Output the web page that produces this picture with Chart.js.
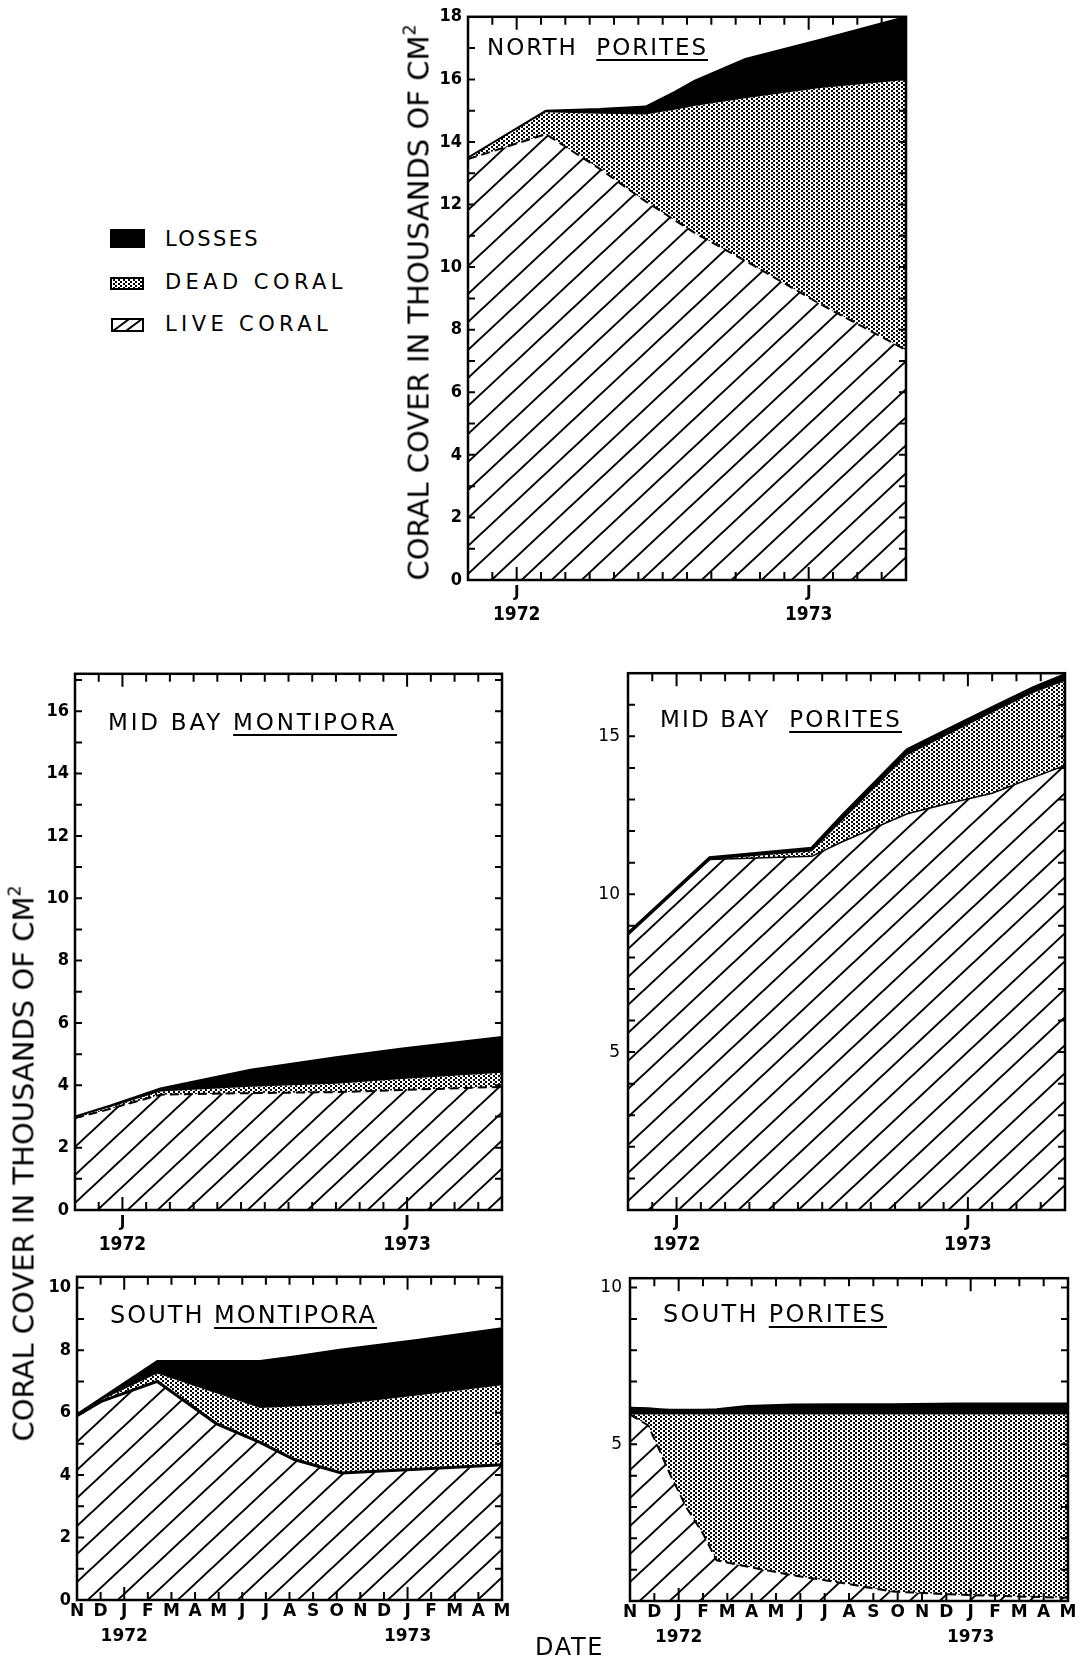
<!DOCTYPE html>
<html>
<head>
<meta charset="utf-8">
<script src="https://cdn.jsdelivr.net/npm/chart.js@4.4.1/dist/chart.umd.min.js"></script>
<style>
html,body{margin:0;padding:0;background:#fff;}
body{width:1085px;height:1661px;position:relative;overflow:hidden;font-family:'DejaVu Sans',sans-serif;color:#000;}
canvas.panel{position:absolute;}
.txt{position:absolute;white-space:nowrap;line-height:1;color:#000;}
.txt u{text-decoration:underline;text-decoration-thickness:2px;text-underline-offset:4px;}
.txt sup{font-size:0.6em;vertical-align:0.75em;line-height:0;}
</style>
</head>
<body>
<script>
// ---------- tick labels ----------
const monthLetters = ['N','D','J','F','M','A','M','J','J','A','S','O','N','D','J','F','M','A','M'];
const yearLabels   = ['','','1972','','','','','','','','','','','','1973','','','',''];
const januaryTicks = [2, 14];

// ---------- NORTH PORITES (months since 1 Nov 1971) ----------
const npTimes = [0, 3.2, 5.4, 7.3, 8.5, 9.3, 11.4, 14.4, 18];
const npLive  = [13.45, 14.25, 13.15, 12.1, 11.5, 11.1, 10.2, 8.85, 7.35];
const npDead  = [13.5, 14.95, 14.9, 14.88, 15.03, 15.15, 15.4, 15.72, 15.98];
const npTotal = [13.5, 15.0, 15.05, 15.13, 15.6, 15.95, 16.65, 17.25, 18.0];

// ---------- MID BAY MONTIPORA ----------
const mmTimes = [0, 1.5, 3.6, 7.4, 11, 13.8, 18];
const mmLive  = [2.95, 3.25, 3.7, 3.75, 3.78, 3.85, 3.95];
const mmDead  = [3.0, 3.3, 3.8, 3.95, 4.05, 4.2, 4.4];
const mmTotal = [3.0, 3.35, 3.9, 4.5, 4.9, 5.18, 5.55];

// ---------- MID BAY PORITES ----------
const mpTimes = [0, 3.37, 7.57, 8.85, 11.5, 13.1, 15, 16.7, 18];
const mpLive  = [8.75, 11.1, 11.2, 11.67, 12.55, 12.86, 13.2, 13.7, 14.08];
const mpDead  = [8.75, 11.1, 11.35, 12.35, 14.4, 15.02, 15.75, 16.38, 16.75];
const mpTotal = [8.75, 11.15, 11.45, 12.5, 14.57, 15.18, 15.9, 16.54, 16.95];

// ---------- SOUTH MONTIPORA ----------
const smTimes = [0, 1, 3.4, 5.9, 7.75, 9.2, 11.2, 14.4, 18];
const smLive  = [5.9, 6.35, 7.0, 5.65, 5.05, 4.5, 4.07, 4.19, 4.33];
const smDead  = [5.95, 6.4, 7.25, 6.62, 6.15, 6.2, 6.27, 6.55, 6.88];
const smTotal = [5.95, 6.45, 7.65, 7.65, 7.65, 7.8, 8.02, 8.33, 8.7];

// ---------- SOUTH PORITES ----------
const spTimes = [0, 0.75, 1.23, 1.64, 2.33, 3.0, 3.56, 4.8, 6.7, 8.75, 10.8, 13.5, 18];
const spLive  = [5.95, 5.6, 4.78, 4.05, 2.97, 2.15, 1.3, 1.1, 0.82, 0.57, 0.3, 0.2, 0.1];
const spDead  = [5.95, 5.95, 5.95, 5.95, 5.95, 5.95, 5.95, 5.95, 5.95, 5.95, 5.95, 5.95, 5.95];
const spTotal = [6.17, 6.15, 6.12, 6.1, 6.1, 6.1, 6.12, 6.22, 6.27, 6.28, 6.28, 6.3, 6.3];

// ---------- helpers ----------
function hatchTile(){
  const c=document.createElement('canvas'); c.width=30; c.height=28;
  const g=c.getContext('2d'); g.strokeStyle='#000'; g.lineWidth=2;
  for(let k=-1;k<=1;k++){ g.beginPath(); g.moveTo(-30,56+k*28); g.lineTo(60,-28+k*28); g.stroke(); }
  return c;
}
function dotTile(){
  const c=document.createElement('canvas'); c.width=5; c.height=4;
  const g=c.getContext('2d'); g.fillStyle='#000';
  g.fillRect(0,0,2,2); g.fillRect(3,2,2,2);
  return c;
}
const HATCH=hatchTile(), DOTS=dotTile();
const pts=(t,v)=>t.map((x,i)=>({x:x,y:v[i]}));

const frameTicks={
  id:'frameTicks',
  afterDatasetsDraw(chart){
    const {ctx, chartArea:a, scales}=chart; const xs=scales.x, ys=scales.y;
    ctx.save(); ctx.strokeStyle='#000'; ctx.lineWidth=2; ctx.beginPath();
    for(let t=1;t<18;t++){
      const px=xs.getPixelForValue(t); const L=januaryTicks.includes(t)?13:8;
      ctx.moveTo(px,a.bottom); ctx.lineTo(px,a.bottom-L);
      ctx.moveTo(px,a.top); ctx.lineTo(px,a.top+L);
    }
    for(let v=1; v<ys.max; v++){
      const py=ys.getPixelForValue(v);
      ctx.moveTo(a.left,py); ctx.lineTo(a.left+7,py);
      ctx.moveTo(a.right,py); ctx.lineTo(a.right-7,py);
    }
    ctx.stroke();
    ctx.lineWidth=2.5; ctx.strokeRect(a.left,a.top,a.right-a.left,a.bottom-a.top);
    ctx.restore();
  }
};

const NARROW="'Liberation Sans Narrow','DejaVu Sans Condensed','Liberation Sans',sans-serif";
const SANS="'DejaVu Sans',sans-serif";

function makePanel(p){
  const YW=45, PT=15, PR=20;
  const allMonths=p.allMonths;
  const mH=allMonths?24:22, yH=30;
  const W=YW+(p.r-p.l)+PR, H=PT+(p.b-p.t)+mH+yH;
  const cv=document.createElement('canvas'); cv.className='panel';
  cv.width=W; cv.height=H; cv.style.width=W+'px'; cv.style.height=H+'px';
  cv.style.left=(p.l-YW)+'px'; cv.style.top=(p.t-PT)+'px';
  document.body.appendChild(cv);
  const ctx=cv.getContext('2d');
  const hatch=ctx.createPattern(HATCH,'repeat'), dots=ctx.createPattern(DOTS,'repeat');
  const noGrid={display:false,drawTicks:false};
  new Chart(ctx,{
    type:'line',
    data:{datasets:[
      {label:'LIVE CORAL',data:pts(p.times,p.live),borderColor:'#000',borderWidth:p.liveW,borderDash:p.dash?[9,5]:[],
       backgroundColor:hatch,fill:'origin',pointRadius:0,tension:0},
      {label:'DEAD CORAL',data:pts(p.times,p.dead),borderColor:'rgba(0,0,0,0)',borderWidth:1,
       backgroundColor:dots,fill:'-1',pointRadius:0,tension:0},
      {label:'LOSSES',data:pts(p.times,p.total),borderColor:'#000',borderWidth:p.topW,
       backgroundColor:'#000',fill:'-1',pointRadius:0,tension:0}
    ]},
    options:{
      responsive:false, animation:false, events:[],
      layout:{padding:{left:0,top:PT,right:PR,bottom:0}},
      plugins:{legend:{display:false},tooltip:{enabled:false}},
      scales:{
        x:{type:'linear',position:'bottom',min:0,max:18,weight:0,
           grid:noGrid,border:{display:false},
           ticks:{stepSize:1,autoSkip:false,includeBounds:false,maxRotation:0,minRotation:0,color:'#000',
             padding:allMonths?2:4,
             font:{family:SANS,size:allMonths?17:15,weight:'bold',lineHeight:1.15},
             callback:(v)=>{const i=Math.round(v); return (allMonths||januaryTicks.includes(i))?monthLetters[i]:'';}},
           afterFit:(s)=>{s.height=mH;}},
        xYear:{type:'linear',position:'bottom',min:0,max:18,weight:1,
           grid:noGrid,border:{display:false},
           ticks:{stepSize:1,autoSkip:false,includeBounds:false,maxRotation:0,minRotation:0,color:'#000',padding:allMonths?3:2,
             font:{family:allMonths?SANS:NARROW,size:allMonths?17:19,weight:'bold',lineHeight:1.15},
             callback:(v)=>yearLabels[Math.round(v)]},
           afterFit:(s)=>{s.height=yH;}},
        y:{type:'linear',min:0,max:p.yMax,
           grid:noGrid,border:{display:false},
           ticks:{stepSize:1,autoSkip:false,includeBounds:false,color:'#000',padding:p.step===5?8:6,
             font:{family:p.step===5?SANS:NARROW,size:p.step===5?17:18,weight:p.step===5?'normal':'bold'},
             callback:(v)=>{ if(!Number.isInteger(v)||v%p.step!==0) return ''; if(p.step===5&&v===0) return ''; return String(v);} },
           afterFit:(s)=>{s.width=YW;}}
      }
    },
    plugins:[frameTicks]
  });
}

makePanel({l:468,t:15,r:906,b:580,yMax:18,step:2,allMonths:false,dash:true,liveW:2,topW:2,times:npTimes,live:npLive,dead:npDead,total:npTotal});
makePanel({l:75,t:672,r:502,b:1210,yMax:17.2,step:2,allMonths:false,dash:true,liveW:2,topW:2,times:mmTimes,live:mmLive,dead:mmDead,total:mmTotal});
makePanel({l:628,t:670,r:1065,b:1210,yMax:17,step:5,allMonths:false,dash:false,liveW:1.5,topW:3.5,times:mpTimes,live:mpLive,dead:mpDead,total:mpTotal});
makePanel({l:77,t:1275,r:502,b:1600,yMax:10.35,step:2,allMonths:true,dash:false,liveW:3,topW:2,times:smTimes,live:smLive,dead:smDead,total:smTotal});
makePanel({l:630,t:1275,r:1068,b:1601,yMax:10.3,step:5,allMonths:true,dash:true,liveW:2,topW:2,times:spTimes,live:spLive,dead:spDead,total:spTotal});

// ---------- texts ----------
function addText(html,o){
  const d=document.createElement('div'); d.className='txt'; d.innerHTML=html;
  d.style.fontSize=o.size+'px'; d.style.fontFamily=o.family||SANS;
  d.style.fontWeight=o.weight||'normal';
  document.body.appendChild(d);
  if(o.width){
    const n=d.textContent.length; const w=d.getBoundingClientRect().width;
    d.style.letterSpacing=((o.width-w)/n)+'px';
  }
  if(o.rotate){
    const w=d.offsetWidth, h=d.offsetHeight;
    d.style.left=(o.cx-w/2)+'px'; d.style.top=(o.cy-h/2)+'px';
    d.style.transform='rotate(-90deg)'; d.style.transformOrigin='50% 50%';
  } else {
    d.style.left=o.x+'px'; d.style.top=(o.base-0.846*o.size)+'px';
  }
  return d;
}
addText('NORTH&nbsp; <u>PORITES</u>',{x:487,base:55,size:23,width:221});
addText('MID BAY <u>MONTIPORA</u>',{x:108,base:730,size:23,width:289});
addText('MID BAY&nbsp; <u>PORITES</u>',{x:660,base:727,size:23,width:242});
addText('SOUTH <u>MONTIPORA</u>',{x:110,base:1323,size:24,width:267});
addText('SOUTH <u>PORITES</u>',{x:663,base:1322,size:24,width:224});

addText('CORAL COVER IN THOUSANDS OF CM<sup>2</sup>',{rotate:true,cx:419,cy:302,size:29,width:556});
addText('CORAL COVER IN THOUSANDS OF CM<sup>2</sup>',{rotate:true,cx:24,cy:1163,size:29,width:556});
addText('DATE',{x:535,base:1655,size:24,width:69});

// legend
const legendItems=[
  {label:'LOSSES',fill:'black',box:[110,229,35,19],base:247,width:95},
  {label:'DEAD CORAL',fill:'dots',box:[110,277,34,13],base:290,width:182},
  {label:'LIVE CORAL',fill:'hatch',box:[111,318,33,14],base:332,width:167}
];
legendItems.forEach(it=>{
  const [x,y,w,h]=it.box;
  const c=document.createElement('canvas'); c.width=w; c.height=h;
  c.style.position='absolute'; c.style.left=x+'px'; c.style.top=y+'px';
  document.body.appendChild(c);
  const g=c.getContext('2d');
  if(it.fill==='black'){ g.fillStyle='#000'; g.fillRect(0,0,w,h); }
  else {
    if(it.fill==='dots'){ g.fillStyle=g.createPattern(DOTS,'repeat'); g.fillRect(0,0,w,h); }
    else { g.strokeStyle='#000'; g.lineWidth=2; g.beginPath(); g.moveTo(2,h-1); g.lineTo(w*0.55,1); g.moveTo(w*0.45,h-1); g.lineTo(w-2,1); g.stroke(); }
    g.strokeStyle='#000'; g.lineWidth=2; g.strokeRect(1,1,w-2,h-2);
  }
  addText(it.label,{x:165,base:it.base,size:21,width:it.width});
});
</script>
</body>
</html>
